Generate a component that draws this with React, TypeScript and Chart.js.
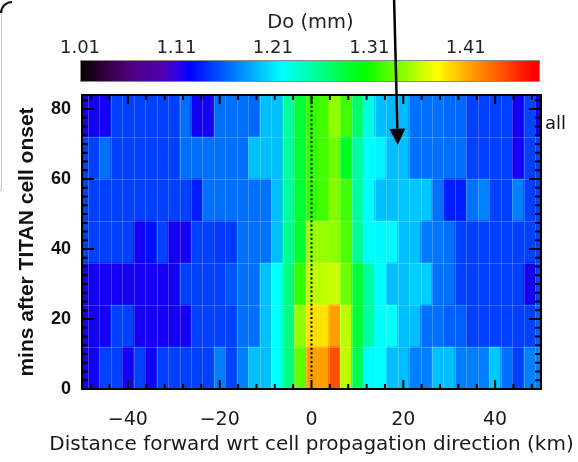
import { useEffect, useRef } from 'react';
import { Chart, registerables } from 'chart.js';

Chart.register(...registerables);

// ---- data ----
const X_CENTERS = [-50, -47.5, -45, -42.5, -40, -37.5, -35, -32.5, -30, -27.5, -25, -22.5, -20, -17.5, -15, -12.5, -10, -7.5, -5, -2.5, 0, 2.5, 5, 7.5, 10, 12.5, 15, 17.5, 20, 22.5, 25, 27.5, 30, 32.5, 35, 37.5, 40, 42.5, 45, 47.5, 50];
const ROW_EDGES = [0, 12, 24, 36, 48, 60, 72, 84];

const ROW_0_12 = [1.118, 1.118, 1.148, 1.148, 1.118, 1.148, 1.118, 1.148, 1.148, 1.148, 1.148, 1.148, 1.172, 1.148, 1.172, 1.196, 1.196, 1.22, 1.262, 1.333, 1.415, 1.415, 1.449, 1.361, 1.278, 1.22, 1.22, 1.196, 1.196, 1.172, 1.172, 1.196, 1.196, 1.172, 1.172, 1.172, 1.199, 1.166, 1.148, 1.172, 1.172];
const ROW_12_24 = [1.118, 1.118, 1.118, 1.148, 1.148, 1.118, 1.118, 1.118, 1.118, 1.118, 1.148, 1.148, 1.148, 1.148, 1.166, 1.166, 1.196, 1.22, 1.262, 1.347, 1.391, 1.391, 1.415, 1.361, 1.288, 1.251, 1.22, 1.22, 1.196, 1.196, 1.166, 1.166, 1.16, 1.16, 1.148, 1.148, 1.148, 1.148, 1.148, 1.148, 1.16];
const ROW_24_36 = [1.118, 1.118, 1.118, 1.118, 1.118, 1.118, 1.118, 1.118, 1.118, 1.148, 1.148, 1.148, 1.148, 1.155, 1.166, 1.166, 1.196, 1.22, 1.262, 1.319, 1.361, 1.361, 1.364, 1.338, 1.288, 1.251, 1.22, 1.196, 1.196, 1.202, 1.202, 1.166, 1.166, 1.148, 1.148, 1.148, 1.148, 1.148, 1.148, 1.118, 1.148];
const ROW_36_48 = [1.148, 1.148, 1.148, 1.148, 1.148, 1.118, 1.13, 1.148, 1.118, 1.118, 1.148, 1.148, 1.145, 1.145, 1.166, 1.166, 1.166, 1.196, 1.256, 1.29, 1.349, 1.349, 1.347, 1.328, 1.256, 1.22, 1.218, 1.218, 1.196, 1.196, 1.17, 1.168, 1.166, 1.148, 1.148, 1.148, 1.148, 1.148, 1.148, 1.148, 1.148];
const ROW_48_60 = [1.148, 1.148, 1.148, 1.148, 1.148, 1.148, 1.148, 1.148, 1.148, 1.148, 1.135, 1.166, 1.166, 1.166, 1.166, 1.166, 1.166, 1.196, 1.251, 1.288, 1.319, 1.324, 1.343, 1.324, 1.251, 1.22, 1.196, 1.196, 1.199, 1.199, 1.199, 1.166, 1.135, 1.135, 1.166, 1.172, 1.148, 1.148, 1.172, 1.148, 1.148];
const ROW_60_72 = [1.148, 1.148, 1.166, 1.148, 1.148, 1.148, 1.148, 1.148, 1.148, 1.166, 1.166, 1.166, 1.166, 1.166, 1.166, 1.196, 1.196, 1.196, 1.251, 1.288, 1.319, 1.324, 1.338, 1.294, 1.251, 1.22, 1.215, 1.196, 1.196, 1.166, 1.166, 1.166, 1.166, 1.166, 1.148, 1.148, 1.148, 1.148, 1.118, 1.148, 1.148];
const ROW_72_84 = [1.118, 1.118, 1.118, 1.148, 1.148, 1.148, 1.148, 1.148, 1.148, 1.166, 1.118, 1.118, 1.166, 1.166, 1.166, 1.163, 1.196, 1.196, 1.251, 1.288, 1.319, 1.324, 1.347, 1.324, 1.27, 1.23, 1.196, 1.194, 1.194, 1.166, 1.166, 1.166, 1.163, 1.163, 1.148, 1.148, 1.148, 1.148, 1.118, 1.15, 1.118];
const ROWS = [ROW_0_12, ROW_12_24, ROW_24_36, ROW_36_48, ROW_48_60, ROW_60_72, ROW_72_84];

const X_TICKS = [-40, -20, 0, 20, 40];
const Y_TICKS = [0, 20, 40, 60, 80];
const X_MINOR_STEP = 4;
const Y_MINOR_STEP = 2.5;
const X_TITLE = 'Distance forward wrt cell propagation direction (km)';
const Y_TITLE = 'mins after TITAN cell onset';

const CBAR_TITLE = 'Do (mm)';
const CBAR_TICKS = [1.01, 1.11, 1.21, 1.31, 1.41];
const CBAR_MIN = 1.01;
const CBAR_MAX = 1.487;
const PANEL_LABEL = 'all';

// arrow annotation (data units): start x at top of canvas, tip in data coords
const ARROW_START_X = 18.0;
const ARROW_TIP = { x: 18.8, y: 69.8 };

// colormap
const CMAP_VALUES = [1.01, 1.035, 1.065, 1.095, 1.11, 1.124, 1.22, 1.262, 1.305, 1.38, 1.415, 1.445, 1.48, 1.487];
const CMAP_COLORS = [[0, 0, 0], [50, 0, 60], [80, 0, 130], [80, 0, 175], [50, 0, 230], [0, 0, 255], [0, 255, 255], [0, 255, 128], [0, 255, 0], [255, 255, 0], [255, 160, 0], [255, 90, 0], [255, 0, 0], [255, 0, 0]];

function cmap(v: number): string {
  if (v <= CMAP_VALUES[0]) return `rgb(${CMAP_COLORS[0].join(',')})`;
  for (let i = 1; i < CMAP_VALUES.length; i++) {
    if (v <= CMAP_VALUES[i]) {
      const t = (v - CMAP_VALUES[i - 1]) / (CMAP_VALUES[i] - CMAP_VALUES[i - 1]);
      const a = CMAP_COLORS[i - 1];
      const b = CMAP_COLORS[i];
      const c = a.map((av, j) => Math.round(av + (b[j] - av) * t));
      return `rgb(${c.join(',')})`;
    }
  }
  return `rgb(${CMAP_COLORS[CMAP_COLORS.length - 1].join(',')})`;
}

const TEXT_FONT = 'DejaVu Sans';
const BOLD_FONT = 'Liberation Sans';

const decorPlugin = {
  id: 'decor',
  afterDatasetsDraw(chart: any) {
    const { ctx, chartArea: a, scales } = chart;
    const x = scales.x;
    const y = scales.y;
    ctx.save();
    // light seams between cells
    ctx.strokeStyle = 'rgba(255,255,255,0.22)';
    ctx.lineWidth = 1;
    ctx.beginPath();
    for (let k = 0; k < X_CENTERS.length - 1; k++) {
      const px = Math.round(x.getPixelForValue((X_CENTERS[k] + X_CENTERS[k + 1]) / 2)) + 0.5;
      ctx.moveTo(px, a.top);
      ctx.lineTo(px, a.bottom);
    }
    for (let r = 1; r < ROW_EDGES.length - 1; r++) {
      const py = Math.round(y.getPixelForValue(ROW_EDGES[r])) + 0.5;
      ctx.moveTo(a.left, py);
      ctx.lineTo(a.right, py);
    }
    ctx.stroke();

    // dotted zero line
    const x0 = x.getPixelForValue(0);
    ctx.strokeStyle = '#000';
    ctx.lineWidth = 2;
    ctx.setLineDash([2, 2.4]);
    ctx.beginPath();
    ctx.moveTo(x0, a.top + 2);
    ctx.lineTo(x0, a.bottom - 10);
    ctx.stroke();
    ctx.setLineDash([]);

    // ticks (inside)
    ctx.strokeStyle = '#000';
    ctx.lineWidth = 2;
    ctx.beginPath();
    for (let v = Math.ceil(x.min / X_MINOR_STEP) * X_MINOR_STEP; v <= x.max; v += X_MINOR_STEP) {
      const px = x.getPixelForValue(v);
      const len = X_TICKS.includes(v) ? 9 : 5;
      ctx.moveTo(px, a.bottom);
      ctx.lineTo(px, a.bottom - len);
      ctx.moveTo(px, a.top);
      ctx.lineTo(px, a.top + len);
    }
    for (let v = Y_MINOR_STEP; v < y.max; v += Y_MINOR_STEP) {
      const py = y.getPixelForValue(v);
      const len = Y_TICKS.includes(v) ? 12 : 6;
      ctx.moveTo(a.left, py);
      ctx.lineTo(a.left + len, py);
      ctx.moveTo(a.right, py);
      ctx.lineTo(a.right - len, py);
    }
    ctx.stroke();

    // frame
    ctx.lineWidth = 2;
    ctx.strokeRect(a.left, a.top, a.right - a.left, a.bottom - a.top);
    ctx.restore();
  },
  afterDraw(chart: any) {
    const { ctx, chartArea: a, scales } = chart;
    const x = scales.x;
    const y = scales.y;
    ctx.save();

    // x-axis title (drawn here so it is not squeezed to the axis width)
    ctx.fillStyle = '#1a1a1a';
    ctx.font = `20px "${TEXT_FONT}"`;
    ctx.textAlign = 'center';
    ctx.textBaseline = 'middle';
    ctx.fillText(X_TITLE, (a.left + a.right) / 2, 445);

    // colorbar
    const bx0 = a.left - 2;
    const bx1 = a.right - 1;
    const by0 = 60;
    const by1 = 82;
    const grad = ctx.createLinearGradient(bx0, 0, bx1, 0);
    CMAP_VALUES.forEach((v, i) => {
      grad.addColorStop(Math.min(1, Math.max(0, (v - CBAR_MIN) / (CBAR_MAX - CBAR_MIN))), `rgb(${CMAP_COLORS[i].join(',')})`);
    });
    ctx.fillStyle = grad;
    ctx.fillRect(bx0, by0, bx1 - bx0, by1 - by0);
    ctx.strokeStyle = '#8a8a8a';
    ctx.lineWidth = 1;
    ctx.strokeRect(bx0 + 0.5, by0 + 0.5, bx1 - bx0 - 1, by1 - by0 - 1);

    ctx.fillStyle = '#222';
    ctx.font = `18px "${TEXT_FONT}"`;
    ctx.textAlign = 'center';
    ctx.textBaseline = 'middle';
    CBAR_TICKS.forEach((v) => {
      const px = bx0 + ((v - CBAR_MIN) / (CBAR_MAX - CBAR_MIN)) * (bx1 - bx0);
      ctx.fillText(v.toFixed(2), px, 48);
    });
    ctx.font = `19.5px "${TEXT_FONT}"`;
    ctx.fillText(CBAR_TITLE, (a.left + a.right) / 2 - 1, 23);

    // panel label
    ctx.textAlign = 'left';
    ctx.font = `18px "${TEXT_FONT}"`;
    ctx.fillStyle = '#111';
    ctx.fillText(PANEL_LABEL, a.right + 4, y.getPixelForValue(75.5));

    // arrow
    const sx = x.getPixelForValue(ARROW_START_X);
    const sy = 0;
    const tx = x.getPixelForValue(ARROW_TIP.x);
    const ty = y.getPixelForValue(ARROW_TIP.y);
    const ang = Math.atan2(ty - sy, tx - sx);
    const hl = 16;
    const hw = 8;
    const bxh = tx - hl * Math.cos(ang);
    const byh = ty - hl * Math.sin(ang);
    ctx.strokeStyle = '#000';
    ctx.lineWidth = 2.5;
    ctx.beginPath();
    ctx.moveTo(sx, sy);
    ctx.lineTo(bxh, byh);
    ctx.stroke();
    ctx.fillStyle = '#000';
    ctx.beginPath();
    ctx.moveTo(tx, ty);
    ctx.lineTo(bxh + hw * Math.sin(ang), byh - hw * Math.cos(ang));
    ctx.lineTo(bxh - hw * Math.sin(ang), byh + hw * Math.cos(ang));
    ctx.closePath();
    ctx.fill();

    // top-left frame remnant
    ctx.strokeStyle = '#c4c4c4';
    ctx.lineWidth = 1;
    ctx.beginPath();
    ctx.moveTo(1.5, 14);
    ctx.lineTo(1.5, 190.5);
    ctx.lineTo(0, 190.5);
    ctx.stroke();
    ctx.strokeStyle = '#111';
    ctx.lineWidth = 2;
    ctx.beginPath();
    ctx.arc(12, 13, 11, Math.PI, 1.5 * Math.PI);
    ctx.stroke();

    ctx.restore();
  },
};

export default function App() {
  const ref = useRef<HTMLCanvasElement>(null);
  useEffect(() => {
    const canvas = ref.current;
    if (!canvas) return;
    const datasets = ROWS.map((vals, r) => ({
      label: `${ROW_EDGES[r]}-${ROW_EDGES[r + 1]}`,
      data: vals.map((v, k) => ({ x: X_CENTERS[k], y: [ROW_EDGES[r], ROW_EDGES[r + 1]] })),
      backgroundColor: vals.map((v) => cmap(v)),
      borderWidth: 0,
      grouped: false,
      barPercentage: 1,
      categoryPercentage: 1,
    }));
    const chart = new Chart(canvas, {
      type: 'bar',
      data: { datasets } as any,
      options: {
        responsive: false,
        animation: false,
        layout: { padding: { top: 95, right: 37, left: 0, bottom: 0 } },
        plugins: { legend: { display: false }, tooltip: { enabled: false } },
        scales: {
          x: {
            type: 'linear',
            min: -50,
            max: 50,
            offset: false,
            grid: { display: false, drawTicks: false },
            border: { display: false },
            afterBuildTicks: (s: any) => {
              s.ticks = X_TICKS.map((v) => ({ value: v }));
            },
            afterFit: (s: any) => {
              s.height = 73;
            },
            ticks: {
              autoSkip: false,
              maxRotation: 0,
              padding: 20,
              color: '#1a1a1a',
              font: { family: TEXT_FONT, size: 19 },
              callback: (v: any) => (Number(v) < 0 ? '\u2212' : '') + Math.abs(Number(v)),
            },
            title: { display: false },
          },
          y: {
            type: 'linear',
            min: 0,
            max: 84,
            grid: { display: false, drawTicks: false },
            border: { display: false },
            afterBuildTicks: (s: any) => {
              s.ticks = Y_TICKS.map((v) => ({ value: v }));
            },
            afterFit: (s: any) => {
              s.width = 82;
            },
            ticks: {
              padding: 11,
              color: '#111',
              font: { family: BOLD_FONT, size: 18, weight: 'bold' },
            },
            title: {
              display: true,
              text: Y_TITLE,
              color: '#111',
              font: { family: BOLD_FONT, size: 21, weight: 'bold' },
              padding: { top: 15, bottom: 0 },
            },
          },
        },
      } as any,
      plugins: [decorPlugin],
    });
    return () => chart.destroy();
  }, []);
  return (
    <div style={{ position: 'absolute', left: 0, top: 0, width: 578, height: 462, background: '#fff' }}>
      <canvas ref={ref} width={578} height={462} style={{ display: 'block' }} />
    </div>
  );
}
